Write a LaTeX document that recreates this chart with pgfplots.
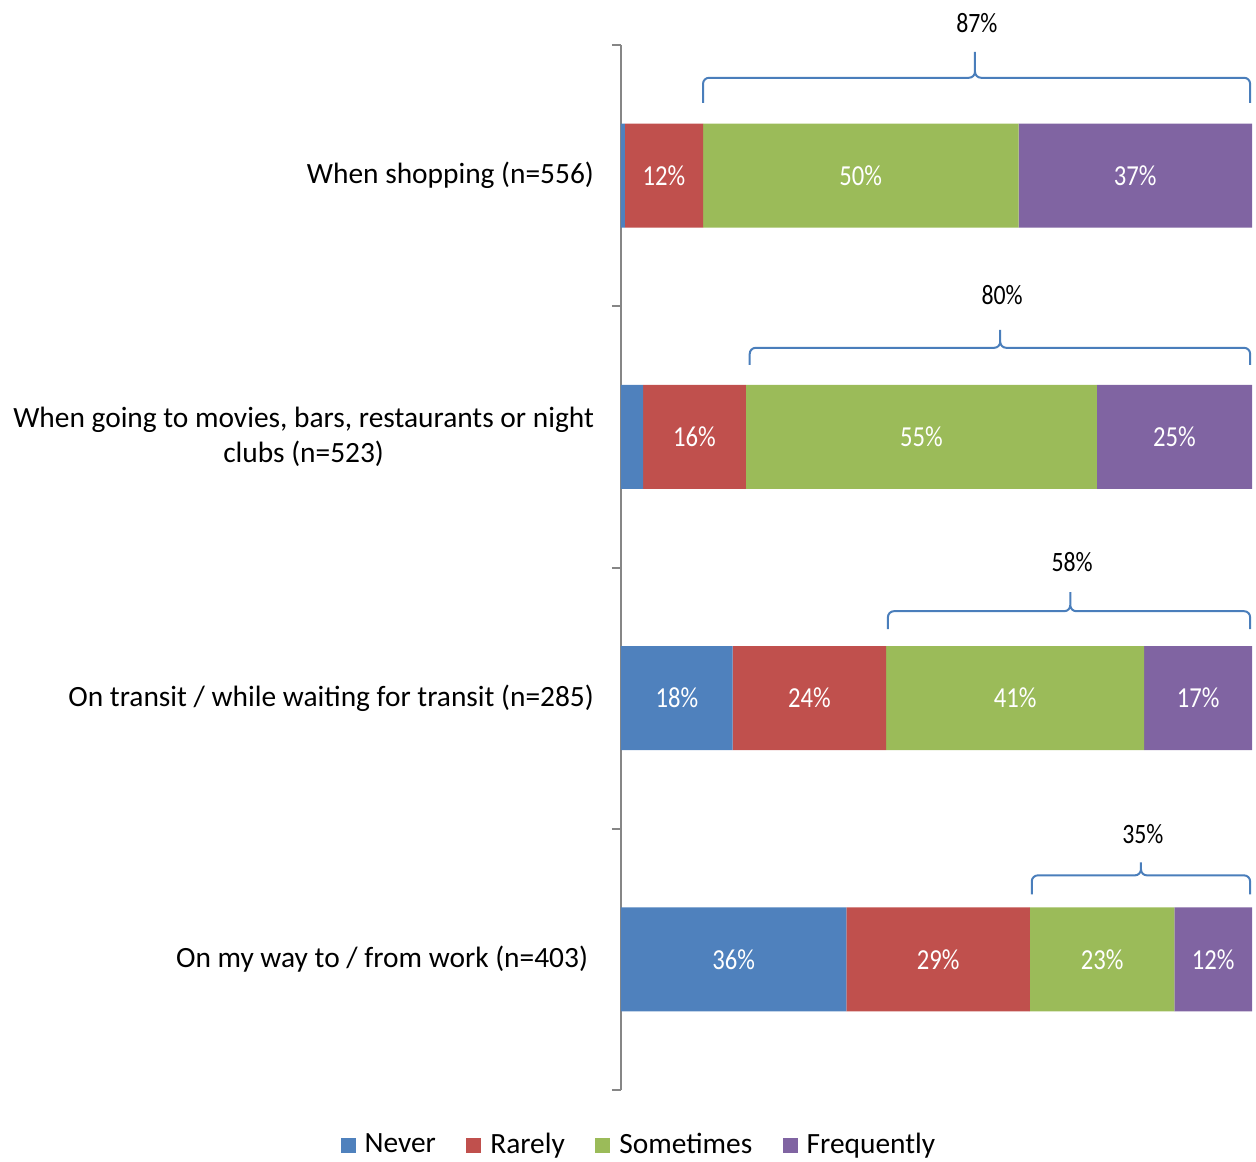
\documentclass[border=0pt]{standalone}
\usepackage{fontspec}
\setmainfont{Carlito}
\newfontfamily\numfont[FakeStretch=0.85]{Carlito}
\usepackage{pgfplots}
\pgfplotsset{compat=1.18}

\definecolor{never}{HTML}{4F81BD}
\definecolor{rarely}{HTML}{C0504D}
\definecolor{sometimes}{HTML}{9BBB59}
\definecolor{frequently}{HTML}{8064A2}
\definecolor{bracecol}{HTML}{4A7EBB}
\definecolor{axisgray}{HTML}{868686}

\tikzset{
  lbl/.style={text=white, font=\numfont\fontsize{14.5}{17}\selectfont},
  brl/.style={text=black, font=\numfont\fontsize{14}{17}\selectfont},
  brc/.style={bracecol, line width=1pt},
}
\pgfplotsset{
  frame/.style={scale only axis, width=315.5pt, height=522.5pt,
                xmin=0, xmax=100, ymin=-0.5, ymax=3.5, clip=false},
}

\begin{document}
\begin{tikzpicture}
\begin{axis}[
    frame,
    xbar stacked, bar width=52pt,
    axis x line=none,
    axis y line*=left,
    y axis line style={axisgray, line width=1pt},
    ytick={0,1,2,3},
    yticklabels={On my way to / from work (n=403)\hspace*{3pt},
                 On transit / while waiting for transit (n=285),
                 {When going to movies, bars, restaurants or night\\clubs (n=523)},
                 When shopping (n=556)},
    major tick length=0pt,
    minor ytick={-0.5,0.5,1.5,2.5,3.5},
    minor tick length=4.5pt,
    tick align=outside,
    minor tick style={axisgray, line width=1pt},
    yticklabel style={align=center, font=\fontsize{14.7}{17.5}\selectfont, xshift=-10pt},
    legend image code/.code={\fill[#1] (0pt,-3.75pt) rectangle (7.5pt,3.75pt);},
    legend style={draw=none, at={(0.03,-0.0526)}, anchor=center,
                  legend columns=4, font=\fontsize{14.7}{17}\selectfont,
                  /tikz/every odd column/.append style={column sep=2.5pt},
                  /tikz/every even column/.append style={column sep=13.2pt}},
]
\addplot[fill=never, draw=none] coordinates {(0.6,3) (3.5,2) (17.7,1) (35.7,0)};
\addplot[fill=rarely, draw=none] coordinates {(12.4,3) (16.3,2) (24.3,1) (29.1,0)};
\addplot[fill=sometimes, draw=none] coordinates {(50.0,3) (55.6,2) (40.9,1) (22.9,0)};
\addplot[fill=frequently, draw=none] coordinates {(37.0,3) (24.6,2) (17.1,1) (12.3,0)};
\legend{Never, Rarely, Sometimes, Frequently}
\end{axis}

% second axis on top: value labels and braces
\begin{axis}[frame, hide axis]
\node[lbl] at (axis cs:6.8,3) {12\%};
\node[lbl] at (axis cs:38,3) {50\%};
\node[lbl] at (axis cs:81.5,3) {37\%};
\node[lbl] at (axis cs:11.65,2) {16\%};
\node[lbl] at (axis cs:47.6,2) {55\%};
\node[lbl] at (axis cs:87.7,2) {25\%};
\node[lbl] at (axis cs:8.85,1) {18\%};
\node[lbl] at (axis cs:29.85,1) {24\%};
\node[lbl] at (axis cs:62.45,1) {41\%};
\node[lbl] at (axis cs:91.45,1) {17\%};
\node[lbl] at (axis cs:17.85,0) {36\%};
\node[lbl] at (axis cs:50.25,0) {29\%};
\node[lbl] at (axis cs:76.25,0) {23\%};
\node[lbl] at (axis cs:93.85,0) {12\%};

% braces: ends at the base, straight part at h, tip at amp above base
\draw[brc] (axis cs:13.0,3.279) -- ++(0pt,9.5pt) arc[start angle=180, end angle=90, radius=3pt]
  -- ([shift={(-3pt,12.5pt)}]axis cs:56.1,3.279) arc[start angle=270, end angle=360, radius=3pt]
  -- ([shift={(0pt,25.5pt)}]axis cs:56.1,3.279) -- ([shift={(0pt,15.5pt)}]axis cs:56.1,3.279)
  arc[start angle=180, end angle=270, radius=3pt]
  -- ([shift={(-3pt,12.5pt)}]axis cs:99.7,3.279) arc[start angle=90, end angle=0, radius=3pt]
  -- (axis cs:99.7,3.279);
\node[brl] at ([yshift=40pt]axis cs:56.4,3.279) {87\%};

\draw[brc] (axis cs:20.4,2.276) -- ++(0pt,5.5pt) arc[start angle=180, end angle=90, radius=3pt]
  -- ([shift={(-3pt,8.5pt)}]axis cs:60.1,2.276) arc[start angle=270, end angle=360, radius=3pt]
  -- ([shift={(0pt,17.5pt)}]axis cs:60.1,2.276) -- ([shift={(0pt,11.5pt)}]axis cs:60.1,2.276)
  arc[start angle=180, end angle=270, radius=3pt]
  -- ([shift={(-3pt,8.5pt)}]axis cs:99.7,2.276) arc[start angle=90, end angle=0, radius=3pt]
  -- (axis cs:99.7,2.276);
\node[brl] at ([yshift=35pt]axis cs:60.4,2.276) {80\%};

\draw[brc] (axis cs:42.3,1.264) -- ++(0pt,6pt) arc[start angle=180, end angle=90, radius=3pt]
  -- ([shift={(-3pt,9pt)}]axis cs:71.2,1.264) arc[start angle=270, end angle=360, radius=3pt]
  -- ([shift={(0pt,18.5pt)}]axis cs:71.2,1.264) -- ([shift={(0pt,12pt)}]axis cs:71.2,1.264)
  arc[start angle=180, end angle=270, radius=3pt]
  -- ([shift={(-3pt,9pt)}]axis cs:99.7,1.264) arc[start angle=90, end angle=0, radius=3pt]
  -- (axis cs:99.7,1.264);
\node[brl] at ([yshift=33.5pt]axis cs:71.5,1.264) {58\%};

\draw[brc] (axis cs:65.1,0.249) -- ++(0pt,6.5pt) arc[start angle=180, end angle=90, radius=3pt]
  -- ([shift={(-3pt,9.5pt)}]axis cs:82.4,0.249) arc[start angle=270, end angle=360, radius=3pt]
  -- ([shift={(0pt,16pt)}]axis cs:82.4,0.249) -- ([shift={(0pt,12.5pt)}]axis cs:82.4,0.249)
  arc[start angle=180, end angle=270, radius=3pt]
  -- ([shift={(-3pt,9.5pt)}]axis cs:99.7,0.249) arc[start angle=90, end angle=0, radius=3pt]
  -- (axis cs:99.7,0.249);
\node[brl] at ([yshift=30pt]axis cs:82.7,0.249) {35\%};

\coordinate (bbsw) at (rel axis cs:-0.98415,-0.0679);
\coordinate (bbne) at (rel axis cs:1.00634,1.0431);
\end{axis}
\pgfresetboundingbox
\path[use as bounding box] (bbsw) rectangle (bbne);
\end{tikzpicture}
\end{document}
